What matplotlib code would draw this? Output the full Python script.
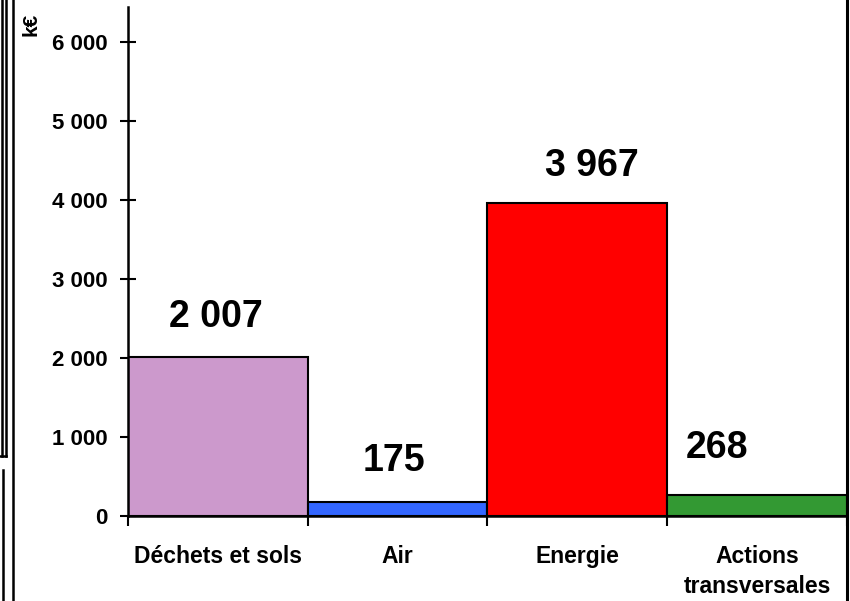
import matplotlib
matplotlib.use("Agg")
import matplotlib.pyplot as plt
from matplotlib.lines import Line2D

categories = ['Déchets et sols', 'Air', 'Energie', 'Actions\ntransversales']
values = [2007, 175, 3967, 268]
value_labels = ['2 007', '175', '3 967', '268']
bar_colors = ['#CC99CC', '#3366FF', '#FF0000', '#339933']
yticks = [0, 1000, 2000, 3000, 4000, 5000, 6000]
ytick_labels = ['0', '1 000', '2 000', '3 000', '4 000', '5 000', '6 000']

# manual label nudges, like the hand-placed labels in the original
label_dx = [-2, -4, 15, -40]
label_dy = [512, 521, 463, 593]

plt.rcParams['font.family'] = ['Liberation Sans', 'DejaVu Sans']
plt.rcParams['font.weight'] = 'bold'

fig = plt.figure(figsize=(8.5, 6.01), dpi=100)
ax = fig.add_axes([128/850, 85/601, 719/850, 509/601])

x = range(len(values))
ax.bar(x, values, width=1.0, color=bar_colors, edgecolor='black', linewidth=1.5, zorder=2)

for i, v in enumerate(values):
    ax.annotate(value_labels[i], (i, v + label_dy[i]), xytext=(label_dx[i] * 0.72, 0),
                textcoords='offset points', ha='center', va='center',
                fontsize=27, fontweight='bold')

ax.set_xlim(-0.5, 3.5)
ax.set_ylim(0, 6443)

ax.set_yticks(yticks)
ax.set_yticklabels(ytick_labels, fontsize=16, fontweight='bold')
ax.tick_params(axis='y', direction='inout', length=11, width=1.5, pad=9)

ax.set_xticks(list(x))
ax.set_xticklabels(categories, fontsize=16.5, fontweight='bold', linespacing=1.38)
ax.tick_params(axis='x', which='major', length=0, pad=21)
ax.set_xticks([-0.5, 0.5, 1.5, 2.5, 3.5], minor=True)
ax.tick_params(axis='x', which='minor', direction='out', length=7, width=1.5)

for s in ['top', 'right']:
    ax.spines[s].set_visible(False)
for s in ['left', 'bottom']:
    ax.spines[s].set_linewidth(1.8)

fig.text(31/850, 1 - 24/601, 'k€', rotation=90, ha='center', va='center',
         fontsize=15, fontweight='bold')

# frame lines left over from the original screenshot
def px_line(xs, ys, lw=1.8):
    fig.add_artist(Line2D([a/850 for a in xs], [1 - b/601 for b in ys],
                          color='black', linewidth=lw, transform=fig.transFigure))

px_line([846.5, 846.5], [0, 601], 2.2)
px_line([12.5, 12.5], [0, 601])
px_line([1.5, 1.5], [0, 456])
px_line([5.5, 5.5], [0, 456])
px_line([0, 5.5], [456, 456])
px_line([2.5, 2.5], [470, 601])

fig.savefig('out.png', dpi=100)
